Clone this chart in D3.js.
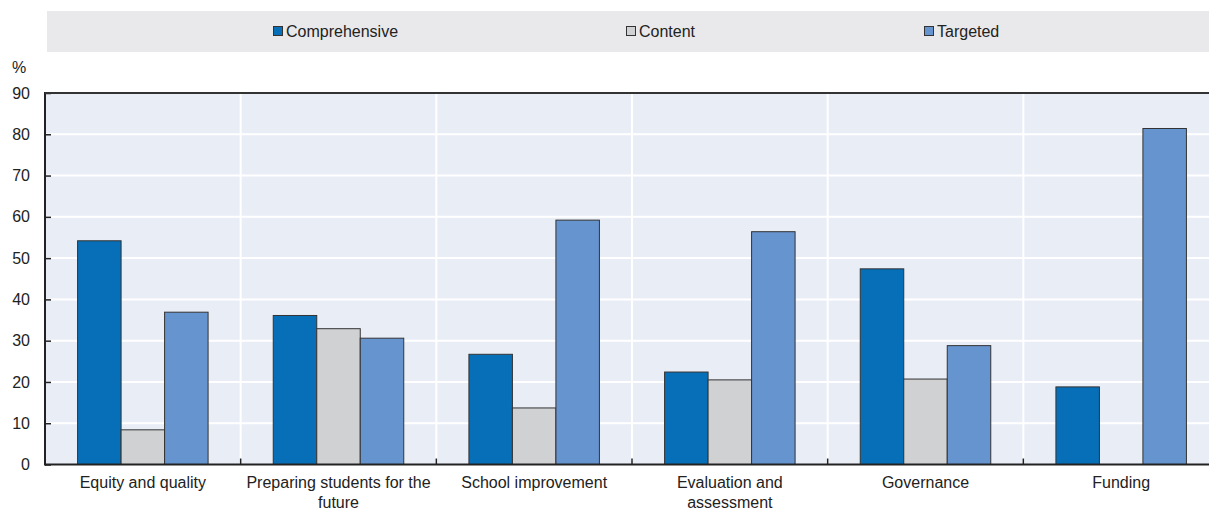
<!DOCTYPE html>
<html><head><meta charset="utf-8">
<script src="https://cdn.jsdelivr.net/npm/d3@7"></script>
<style>body{margin:0;background:#fff}svg{display:block;font-family:"Liberation Sans",Arial,sans-serif}</style>
</head><body>
<svg id="c" width="1209" height="511"></svg>
<script>
const categories = ["Equity and quality", "Preparing students for the\nfuture", "School improvement", "Evaluation and\nassessment", "Governance", "Funding"];
const series = ["Comprehensive", "Content", "Targeted"];
const comprehensive = [54.2, 36.1, 26.7, 22.4, 47.4, 18.8];
const content = [8.4, 32.9, 13.7, 20.5, 20.7, 0];
const targeted = [36.9, 30.6, 59.2, 56.4, 28.8, 81.4];
const yTicks = [0, 10, 20, 30, 40, 50, 60, 70, 80, 90];
const colors = ["#066fb8", "#d0d1d3", "#6694cf"];
const values = [comprehensive, content, targeted];

const svg = d3.select("#c");
const L = 45, R = 1219, T = 93, B = 464.5;

// legend
svg.append("rect").attr("x", 47).attr("y", 11).attr("width", 1162).attr("height", 41).attr("fill", "#e9e9eb");
const legX = [273, 626, 924];
series.forEach((s, i) => {
  svg.append("rect").attr("x", legX[i] + 0.5).attr("y", 26.5).attr("width", 9).attr("height", 9)
    .attr("fill", colors[i]).attr("stroke", "#333").attr("stroke-width", 1);
  svg.append("text").attr("x", legX[i] + 13).attr("y", 37).attr("font-size", 16).attr("fill", "#222").text(s);
});

const x0 = d3.scaleBand().domain(categories).range([L, R]).padding(0);
const groupW = 130.5;
const x1 = d3.scaleBand().domain(series).range([(x0.bandwidth() - groupW) / 2, (x0.bandwidth() + groupW) / 2]).padding(0);
const y = d3.scaleLinear().domain([0, 90]).range([B, T]);

// plot background
svg.append("rect").attr("x", L).attr("y", T).attr("width", R - L).attr("height", B - T).attr("fill", "#e9edf6");
// gridlines
svg.append("g").selectAll("line").data(yTicks.filter(d => d > 0 && d < 90)).join("line")
  .attr("x1", L).attr("x2", R).attr("y1", d => y(d)).attr("y2", d => y(d))
  .attr("stroke", "#fff").attr("stroke-width", 2);
svg.append("g").selectAll("line").data(categories.slice(1)).join("line")
  .attr("x1", d => x0(d)).attr("x2", d => x0(d)).attr("y1", T).attr("y2", B)
  .attr("stroke", "#fff").attr("stroke-width", 2);

// bars
const g = svg.append("g");
categories.forEach((c, ci) => {
  series.forEach((s, si) => {
    const v = values[si][ci];
    if (v <= 0) return;
    g.append("rect").attr("x", x0(c) + x1(s)).attr("y", y(v)).attr("width", x1.bandwidth())
      .attr("height", y(0) - y(v)).attr("fill", colors[si]).attr("stroke", "#333").attr("stroke-width", 1);
  });
});

// y axis
const yAxis = svg.append("g").attr("transform", `translate(${L},0)`)
  .call(d3.axisLeft(y).tickValues(yTicks).tickSize(-6).tickPadding(15));
yAxis.select(".domain").remove();
yAxis.selectAll(".tick line").attr("stroke", "#222").attr("stroke-width", 1.5);
yAxis.selectAll(".tick text").attr("font-size", 16).attr("fill", "#222").attr("font-family", "Liberation Sans, Arial, sans-serif");
svg.append("line").attr("x1", L).attr("x2", L).attr("y1", T - 1).attr("y2", B + 1).attr("stroke", "#222").attr("stroke-width", 2);
svg.append("line").attr("x1", L).attr("x2", R).attr("y1", T).attr("y2", T).attr("stroke", "#333").attr("stroke-width", 2);
svg.append("text").attr("x", 12).attr("y", 73).attr("font-size", 16).attr("fill", "#222").text("%");

// x axis
const xAxis = svg.append("g").attr("transform", `translate(0,${B})`)
  .call(d3.axisBottom(x0).tickSize(0).tickPadding(12).tickFormat(""));
xAxis.select(".domain").remove();
svg.append("line").attr("x1", L).attr("x2", R).attr("y1", B).attr("y2", B).attr("stroke", "#222").attr("stroke-width", 2);
svg.append("g").selectAll("line").data(categories.slice(1)).join("line")
  .attr("x1", d => x0(d)).attr("x2", d => x0(d)).attr("y1", B).attr("y2", B - 6)
  .attr("stroke", "#222").attr("stroke-width", 1.5);
categories.forEach(c => {
  const t = svg.append("text").attr("x", x0(c) + x0.bandwidth() / 2).attr("y", 488)
    .attr("text-anchor", "middle").attr("font-size", 16).attr("fill", "#222");
  c.split("\n").forEach((line, i) => {
    t.append("tspan").attr("x", x0(c) + x0.bandwidth() / 2).attr("dy", i === 0 ? 0 : 20).text(line);
  });
});
</script>
</body></html>
